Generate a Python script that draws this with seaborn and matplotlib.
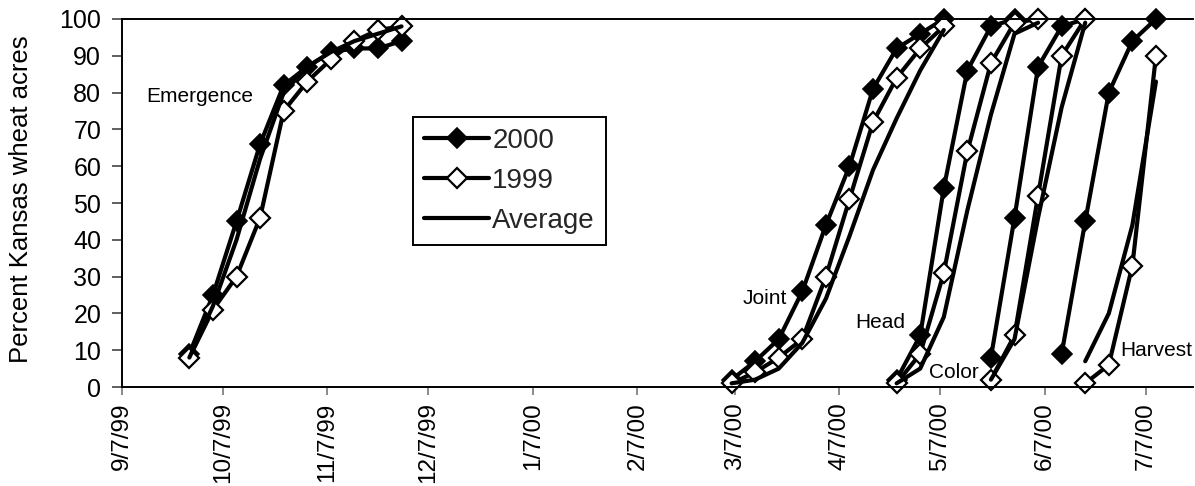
import matplotlib
matplotlib.use("Agg")
import matplotlib.pyplot as plt
import matplotlib.dates as mdates
from matplotlib.lines import Line2D
import seaborn as sns
import pandas as pd

# ---------------- data ----------------
emergence_dates = ["9/27/99", "10/4/99", "10/11/99", "10/18/99", "10/25/99",
                   "11/1/99", "11/8/99", "11/15/99", "11/22/99", "11/29/99"]
emergence_2000 = [9, 25, 45, 66, 82, 87, 91, 92, 92, 94]
emergence_1999 = [8, 21, 30, 46, 75, 83, 89, 94, 97, 98]
emergence_avg = [8, 22, 40, 62, 80, 87, 91, 94, 96, 98]

joint_dates = ["3/6/00", "3/13/00", "3/20/00", "3/27/00", "4/3/00",
               "4/10/00", "4/17/00", "4/24/00", "5/1/00", "5/8/00"]
joint_2000 = [2, 7, 13, 26, 44, 60, 81, 92, 96, 100]
joint_1999 = [1, 4, 8, 13, 30, 51, 72, 84, 92, 98]
joint_avg = [1, 2, 5, 12, 24, 41, 59, 73, 86, 97]

head_dates = ["4/24/00", "5/1/00", "5/8/00", "5/15/00", "5/22/00", "5/29/00", "6/5/00"]
head_2000 = [2, 14, 54, 86, 98, 100]
head_1999 = [1, 9, 31, 64, 88, 99, 100]
head_avg = [1, 5, 19, 48, 74, 96, 99]

color_dates = ["5/22/00", "5/29/00", "6/5/00", "6/12/00", "6/19/00"]
color_2000 = [8, 46, 87, 98, 100]
color_1999 = [2, 14, 52, 90, 100]
color_avg = [2, 13, 46, 76, 99]

harvest_dates_2000 = ["6/12/00", "6/19/00", "6/26/00", "7/3/00", "7/10/00"]
harvest_2000 = [9, 45, 80, 94, 100]
harvest_dates = ["6/19/00", "6/26/00", "7/3/00", "7/10/00"]
harvest_1999 = [1, 6, 33, 90]
harvest_avg = [7, 20, 44, 83]

tick_labels = ["9/7/99", "10/7/99", "11/7/99", "12/7/99", "1/7/00", "2/7/00",
               "3/7/00", "4/7/00", "5/7/00", "6/7/00", "7/7/00"]
x_start, x_end = "9/7/99", "7/21/00"

stage_labels = ["Emergence", "Joint", "Head", "Color", "Harvest"]
stage_label_pos = [("9/30/99", 79), ("3/16/00", 24), ("4/19/00", 17.5),
                   ("5/11/00", 4), ("7/10/00", 10)]

series_names = ["2000", "1999", "Average"]
y_label = "Percent Kansas wheat acres"

# ---------------- style ----------------
sns.set_theme(style="white")
plt.rcParams["font.family"] = ["Liberation Sans", "DejaVu Sans"]


def d(s):
    return pd.to_datetime(s, format="%m/%d/%y")


fig = plt.figure(figsize=(11.95, 4.86), dpi=100)
ax = fig.add_axes([122 / 1195, 99 / 486, 1071 / 1195, 368 / 486])

LW = 3.0
MS = 10.5
styles = {
    "2000": dict(marker="D", markersize=MS, markerfacecolor="black",
                 markeredgecolor="black", markeredgewidth=1.2),
    "1999": dict(marker="D", markersize=MS, markerfacecolor="white",
                 markeredgecolor="black", markeredgewidth=1.6),
    "Average": dict(marker=None),
}

groups = [
    (emergence_dates, emergence_2000, emergence_dates, emergence_1999, emergence_dates, emergence_avg),
    (joint_dates, joint_2000, joint_dates, joint_1999, joint_dates, joint_avg),
    (head_dates[:len(head_2000)], head_2000, head_dates, head_1999, head_dates, head_avg),
    (color_dates, color_2000, color_dates, color_1999, color_dates, color_avg),
    (harvest_dates_2000, harvest_2000, harvest_dates, harvest_1999, harvest_dates, harvest_avg),
]

for g in groups:
    for k, name in enumerate(series_names):
        xs = d(g[2 * k])
        ys = g[2 * k + 1]
        df = pd.DataFrame({"date": xs, "pct": ys})
        sns.lineplot(data=df, x="date", y="pct", ax=ax, color="black",
                     linewidth=LW, estimator=None, sort=False,
                     clip_on=False, **styles[name])

# axes
ax.set_xlim(d(x_start), d(x_end))
ax.set_ylim(0, 100)
ax.set_yticks(range(0, 101, 10))
ax.set_xticks(d(tick_labels))
ax.set_xticklabels(tick_labels, rotation=90, ha="center", va="top")
ax.set_xlabel("")
ax.set_ylabel(y_label, fontsize=18.5, color="black")
ax.yaxis.set_label_coords(-0.083, 0.51)

ax.tick_params(axis="y", which="major", direction="out", length=7, width=1.2,
               color="#444444", labelsize=18, pad=8, left=True, labelcolor="black")
ax.tick_params(axis="x", which="major", direction="out", length=6, width=1.2,
               color="#777777", labelsize=17.5, pad=5, bottom=True, labelcolor="black")

for side in ["left", "bottom", "top"]:
    ax.spines[side].set_visible(True)
    ax.spines[side].set_color("black")
    ax.spines[side].set_linewidth(1.4)
ax.spines["right"].set_visible(False)
ax.grid(False)

# stage labels
for lab, (ds, yv) in zip(stage_labels, stage_label_pos):
    ax.text(mdates.date2num(d(ds)), yv, lab, fontsize=15, ha="center",
            va="center", color="black")

# legend
handles = [
    Line2D([], [], color="black", linewidth=LW, **styles["2000"]),
    Line2D([], [], color="black", linewidth=LW, **styles["1999"]),
    Line2D([], [], color="black", linewidth=LW),
]
leg = ax.legend(handles, series_names, loc="upper left",
                bbox_to_anchor=(0.2717, 0.734), borderaxespad=0,
                fontsize=20, frameon=True, fancybox=False, shadow=False,
                handlelength=2.35, handletextpad=0.1, labelspacing=0.5,
                borderpad=0.4)
leg.get_frame().set_edgecolor("black")
leg.get_frame().set_linewidth(1.4)
leg.get_frame().set_facecolor("white")
leg.get_frame().set_alpha(1)

fig.savefig("out.png", dpi=100)
